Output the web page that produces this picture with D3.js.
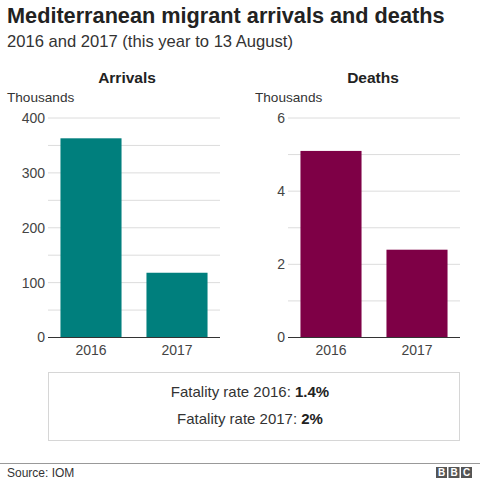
<!DOCTYPE html>
<html><head><meta charset="utf-8">
<script src="https://cdn.jsdelivr.net/npm/d3@7"></script>
<style>body{margin:0;background:#fff}svg{display:block;font-family:"Liberation Sans",Arial,sans-serif}</style>
</head><body>
<script>
const years = ["2016", "2017"];
const arrivals = [363, 118];      // thousands
const deaths = [5.1, 2.4];        // thousands
const arrivalTicks = [0, 100, 200, 300, 400];
const deathTicks = [0, 2, 4, 6];
const fatalityRates = ["1.4%", "2%"];

const W = 480, H = 480;
const svg = d3.select("body").append("svg").attr("width", W).attr("height", H);

svg.append("text").attr("x", 7).attr("y", 23).attr("font-size", 21.7).attr("font-weight", "bold")
  .attr("fill", "#222").text("Mediterranean migrant arrivals and deaths");
svg.append("text").attr("x", 7).attr("y", 47).attr("font-size", 16.6).attr("fill", "#333")
  .text("2016 and 2017 (this year to 13 August)");

function panel(opts) {
  const { x0, x1, labelX, title, titleX, values, ticks, max, minor, color } = opts;
  const y = d3.scaleLinear().domain([0, max]).range([337.5, 118]);
  const x = d3.scaleBand().domain(years).range([x0, x1]).paddingInner(0.29).paddingOuter(0.145);
  const g = svg.append("g");
  g.append("text").attr("x", titleX).attr("y", 83).attr("text-anchor", "middle")
    .attr("font-size", 15.5).attr("font-weight", "bold").attr("fill", "#222").text(title);
  g.append("text").attr("x", labelX).attr("y", 102).attr("font-size", 13.6).attr("fill", "#333").text("Thousands");
  // gridlines
  g.selectAll(".grid").data(d3.range(0, max + 1e-9, minor).filter(v => v > 0)).join("line")
    .attr("x1", x0).attr("x2", x1).attr("y1", d => y(d)).attr("y2", d => y(d))
    .attr("stroke", "#dcdcdc").attr("stroke-width", 1);
  const ax = g.append("g").attr("transform", `translate(${x0},0)`)
    .call(d3.axisLeft(y).tickValues(ticks).tickFormat(d3.format("d")).tickSize(0).tickPadding(3));
  ax.select(".domain").remove();
  ax.selectAll("text").attr("font-size", 14).attr("fill", "#444").attr("font-family", "Liberation Sans,Arial,sans-serif");
  g.selectAll(".bar").data(values).join("rect")
    .attr("x", (d, i) => x(years[i])).attr("width", x.bandwidth())
    .attr("y", d => y(d)).attr("height", d => y(0) - y(d)).attr("fill", color);
  g.append("line").attr("x1", x0).attr("x2", x1).attr("y1", y(0)).attr("y2", y(0))
    .attr("stroke", "#333").attr("stroke-width", 1.2);
  const xa = g.append("g").attr("transform", `translate(0,${y(0)})`)
    .call(d3.axisBottom(x).tickSize(0).tickPadding(8));
  xa.select(".domain").remove();
  xa.selectAll("text").attr("font-size", 14).attr("fill", "#444").attr("font-family", "Liberation Sans,Arial,sans-serif");
}

panel({ x0: 48, x1: 220, labelX: 7, title: "Arrivals", titleX: 127, values: arrivals,
  ticks: arrivalTicks, max: 400, minor: 50, color: "#007f7d" });
panel({ x0: 288, x1: 460, labelX: 255, title: "Deaths", titleX: 373, values: deaths,
  ticks: deathTicks, max: 6, minor: 1, color: "#7e0046" });

// fatality box
svg.append("rect").attr("x", 48.5).attr("y", 372.5).attr("width", 411).attr("height", 68)
  .attr("fill", "none").attr("stroke", "#d6d6d6").attr("stroke-width", 1);
fatalityRates.forEach((r, i) => {
  const t = svg.append("text").attr("x", 250).attr("y", 397 + i * 26.5).attr("text-anchor", "middle")
    .attr("font-size", 15).attr("fill", "#333");
  t.append("tspan").text(`Fatality rate ${years[i]}: `);
  t.append("tspan").attr("font-weight", "bold").attr("fill", "#222").text(r);
});

// footer
svg.append("line").attr("x1", 0).attr("x2", 480).attr("y1", 463.5).attr("y2", 463.5)
  .attr("stroke", "#999").attr("stroke-width", 1);
svg.append("text").attr("x", 7).attr("y", 476.5).attr("font-size", 12).attr("fill", "#333").text("Source: IOM");
["B", "B", "C"].forEach((c, i) => {
  const bx = 436 + i * 12.5;
  svg.append("rect").attr("x", bx).attr("y", 467).attr("width", 11).attr("height", 11).attr("fill", "#555");
  svg.append("text").attr("x", bx + 5.5).attr("y", 476).attr("text-anchor", "middle")
    .attr("font-size", 10).attr("font-weight", "bold").attr("fill", "#fff").text(c);
});
</script>
</body></html>
